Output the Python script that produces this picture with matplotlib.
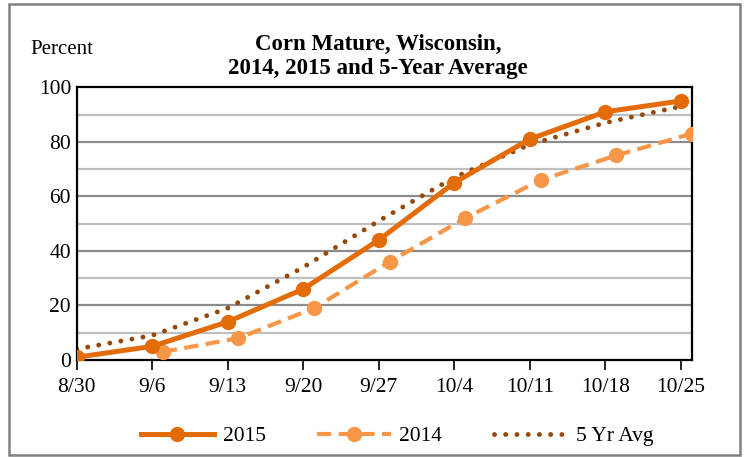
import pandas as pd
import matplotlib.pyplot as plt
from matplotlib.patches import Rectangle

# Week-ending dates (2014 weeks end one day later on the calendar)
dates_2015 = ['8/30', '9/6', '9/13', '9/20', '9/27', '10/4', '10/11', '10/18', '10/25']
dates_2014 = ['9/7', '9/14', '9/21', '9/28', '10/5', '10/12', '10/19', '10/26']

pct_2015 = [1, 5, 14, 26, 44, 65, 81, 91, 95]
pct_2014 = [3, 8, 19, 36, 52, 66, 75, 83]
pct_avg = [4, 9, 19, 34, 51, 67, 79, 87, 93]

tick_labels = dates_2015
y_ticks = [0, 20, 40, 60, 80, 100]


def to_dates(lst):
    return pd.to_datetime(['2015/' + d for d in lst], format='%Y/%m/%d')


x15 = to_dates(dates_2015)
x14 = to_dates(dates_2014)

plt.rcParams['font.family'] = ['Liberation Serif', 'DejaVu Serif']

fig = plt.figure(figsize=(7.44, 4.57), dpi=100)
ax = fig.add_axes([0.103, 0.2123, 0.8267, 0.5967])

# Gridlines: light at odd tens, darker at even tens
for v in range(10, 100, 20):
    ax.axhline(v, color='#bfbfbf', lw=1.6, zorder=0)
for v in range(20, 100, 20):
    ax.axhline(v, color='#8c8c8c', lw=1.6, zorder=0)

ax.plot(x15, pct_avg, color='#974806', lw=3.5, linestyle=(0, (0.01, 2.3)),
        dash_capstyle='round', label='5 Yr Avg', zorder=2)
ax.plot(x14, pct_2014, color='#F79646', lw=3.0, linestyle=(0, (3.4, 1.8)),
        marker='o', markersize=10, label='2014', zorder=3)
ax.plot(x15, pct_2015, color='#E36C09', lw=3.6, marker='o', markersize=10,
        label='2015', zorder=4)

ax.set_ylim(0, 100)
ax.set_yticks(y_ticks)
ax.set_xlim(to_dates(['8/30'])[0], to_dates(['10/26'])[0])
ax.set_xticks(x15)
ax.set_xticklabels(tick_labels)

for s in ax.spines.values():
    s.set_color('black')
    s.set_linewidth(1.6)
ax.tick_params(axis='x', length=7, width=1.2, direction='out', pad=6, labelsize=15.5)
ax.tick_params(axis='y', length=0, pad=4, labelsize=15.5)

fig.text(0.508, 0.877, 'Corn Mature, Wisconsin,\n2014, 2015 and 5-Year Average',
         ha='center', va='center', fontsize=16.5, fontweight='bold', linespacing=1.2)
fig.text(30 / 744, 1 - 49 / 457, 'Percent', ha='left', va='center', fontsize=15)

handles, labels = ax.get_legend_handles_labels()
order = [2, 1, 0]
fig.legend([handles[i] for i in order], [labels[i] for i in order],
           loc='center', bbox_to_anchor=(397 / 744, 1 - 436 / 457), ncol=3,
           frameon=False, fontsize=15.5, handlelength=3.4, columnspacing=2.4,
           handletextpad=0.4)

# Outer chart border
fig.patches.append(Rectangle((9 / 744, 2 / 457), 731 / 744, 451 / 457,
                             transform=fig.transFigure, fill=False,
                             edgecolor='#808080', lw=1.8))

fig.savefig('out.png', dpi=100)
